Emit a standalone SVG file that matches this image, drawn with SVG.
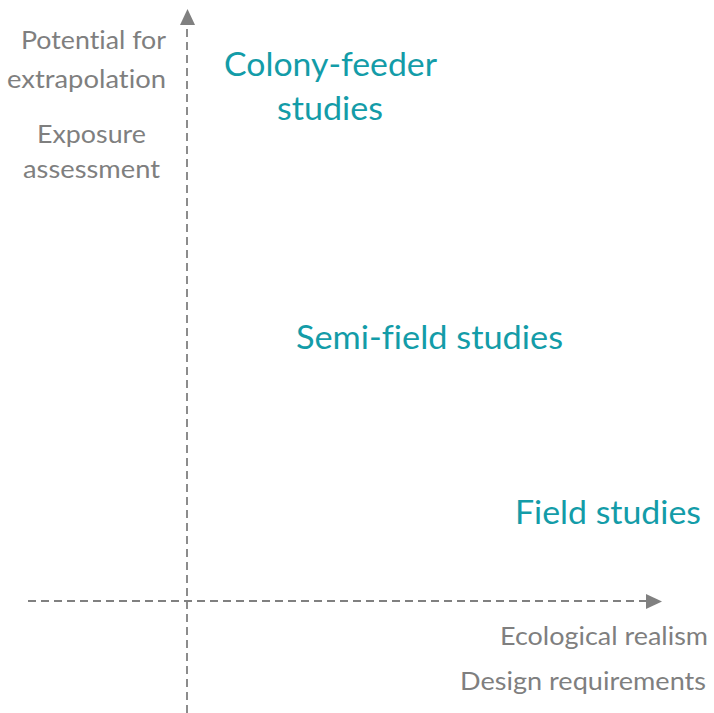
<svg xmlns="http://www.w3.org/2000/svg" width="714" height="713" viewBox="0 0 714 713">
<style>
.ax{stroke:#808080;stroke-width:1.8;stroke-dasharray:8 5;fill:none}
.g{font-family:Lato,"Open Sans","Liberation Sans",sans-serif;font-size:25px;fill:#7f7f7f;font-variant-ligatures:none}
.t{font-family:Lato,"Open Sans","Liberation Sans",sans-serif;font-size:33px;fill:#139ca8;font-variant-ligatures:none}
</style>
<rect width="714" height="713" fill="#ffffff"/>
<g id="connectors">
<line class="ax" x1="187" y1="713" x2="187" y2="26"/>
<path d="M180,25 L187.5,9 L195,25 Z" fill="#808080"/>
<line class="ax" x1="28" y1="601" x2="647" y2="601"/>
<path d="M646,594 L662,601.5 L646,609 Z" fill="#808080"/>
</g>
<g id="y-axis-labels">
<text class="g" x="21" y="49" textLength="145" lengthAdjust="spacingAndGlyphs">Potential for</text>
<text class="g" x="7" y="88" textLength="159" lengthAdjust="spacingAndGlyphs">extrapolation</text>
<text class="g" x="37" y="143" textLength="109" lengthAdjust="spacingAndGlyphs">Exposure</text>
<text class="g" x="23" y="178" textLength="137" lengthAdjust="spacingAndGlyphs">assessment</text>
</g>
<g id="x-axis-labels">
<text class="g" x="500" y="645" textLength="208" lengthAdjust="spacingAndGlyphs">Ecological realism</text>
<text class="g" x="460" y="690" textLength="246" lengthAdjust="spacingAndGlyphs">Design requirements</text>
</g>
<g id="colony-feeder">
<text class="t" x="224" y="76" textLength="213" lengthAdjust="spacingAndGlyphs">Colony-feeder</text>
<text class="t" x="277" y="120" textLength="106" lengthAdjust="spacingAndGlyphs">studies</text>
</g>
<g id="semi-field">
<text class="t" x="296" y="349" textLength="267" lengthAdjust="spacingAndGlyphs">Semi-field studies</text>
</g>
<g id="field">
<text class="t" x="515" y="524" textLength="186" lengthAdjust="spacingAndGlyphs">Field studies</text>
</g>
</svg>
